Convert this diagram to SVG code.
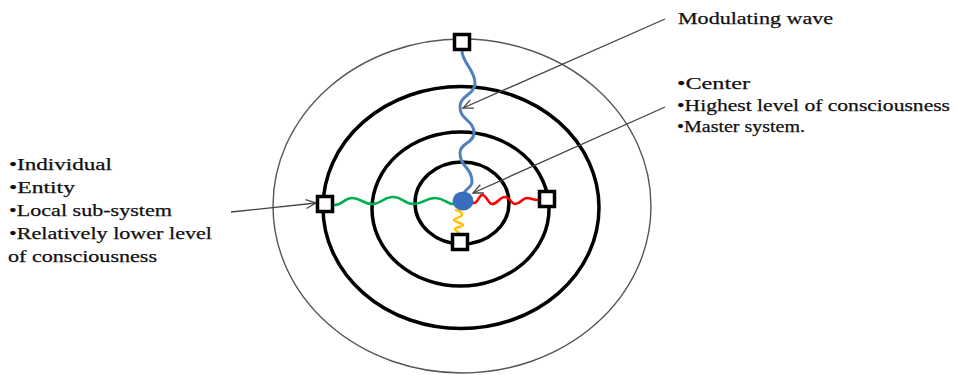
<svg xmlns="http://www.w3.org/2000/svg" width="956" height="375" viewBox="0 0 956 375">
<style>
.ring{fill:none;stroke:#000;stroke-width:3.5}
.outer{fill:none;stroke:#555;stroke-width:1.4}
.node{fill:#fff;stroke:#000;stroke-width:3.5}
.wave{fill:none;stroke-linecap:round;stroke-linejoin:round}
.arrow{fill:none;stroke:#444;stroke-width:1.3;marker-end:url(#ah)}
text{font-family:"Liberation Serif","Times New Roman",serif;font-size:17px;fill:#111;stroke:#111;stroke-width:0.25}
</style>
<defs>
<marker id="ah" markerUnits="userSpaceOnUse" markerWidth="14" markerHeight="12" refX="11" refY="5" orient="auto">
<path d="M1,0.5 L11,5 L1,9.5" fill="none" stroke="#444" stroke-width="1.3"/>
</marker>
<filter id="soft" x="-50%" y="-50%" width="200%" height="200%"><feGaussianBlur stdDeviation="0.5"/></filter>
</defs>
<g id="rings">
<ellipse class="outer" cx="462" cy="206" rx="189" ry="167"/>
<ellipse class="ring" cx="461" cy="207.5" rx="138" ry="121"/>
<ellipse class="ring" cx="460.5" cy="209" rx="88.5" ry="77"/>
<ellipse class="ring" cx="462" cy="203" rx="47" ry="41"/>
</g>
<g id="connectors">
<path class="wave" stroke="#4F81BD" stroke-width="3" d="M462,51 C462,62 475,70 475,83 C475,95 460,95 460,107 C460,120 474,120 474,133 C474,143 460,143 460,153 C460,167 472,167 472,182 C472,188 464,189 464,194"/>
<path class="wave" stroke="#00B050" stroke-width="2.6" d="M334,205 C343,205 344,198 352,198 C361,198 363,204 372,204 C382,204 383,197 393,197 C403,197 404,204 413,204 C424,204 425,198 435,198 C445,198 446,204 453,204"/>
<path class="wave" stroke="#FF0000" stroke-width="2.6" d="M474,203 C478,203 479,195 482,195 C487,195 488,204 492,204 C498,204 499,197 505,197 C510,197 511,204 515,204 C521,204 522,198 527,198 C531,198 533,200 538,200"/>
<path class="wave" stroke="#FFC000" stroke-width="2.4" d="M456,210 C460,211 462,213 462,215 C462,217 454,218 454,220 C454,222 463,223 463,225 C463,227 455,227 455,229 C455,231 459,232 460,234"/>
<line class="arrow" x1="665" y1="19" x2="463" y2="108"/>
<line class="arrow" x1="665" y1="107" x2="473" y2="193"/>
<line class="arrow" x1="231" y1="212" x2="316" y2="203"/>
</g>
<g id="center">
<ellipse cx="463" cy="201" rx="10.5" ry="9.5" fill="#3A6DBE" filter="url(#soft)"/>
</g>
<g id="node-top"><rect class="node" x="454.5" y="34.5" width="15" height="15"/></g>
<g id="node-left"><rect class="node" x="317.5" y="196.5" width="15" height="15"/></g>
<g id="node-right"><rect class="node" x="539.5" y="191.5" width="15" height="15"/></g>
<g id="node-bottom"><rect class="node" x="452.5" y="234.5" width="15" height="15"/></g>
<g id="label-wave">
<text x="678" y="24" textLength="155" lengthAdjust="spacingAndGlyphs">Modulating wave</text>
</g>
<g id="label-center">
<text x="677" y="89" textLength="73" lengthAdjust="spacingAndGlyphs">•Center</text>
<text x="677" y="111" textLength="273" lengthAdjust="spacingAndGlyphs">•Highest level  of consciousness</text>
<text x="677" y="132" textLength="128" lengthAdjust="spacingAndGlyphs">•Master system.</text>
</g>
<g id="label-individual">
<text x="9" y="170" textLength="103" lengthAdjust="spacingAndGlyphs">•Individual</text>
<text x="9" y="193" textLength="66" lengthAdjust="spacingAndGlyphs">•Entity</text>
<text x="9" y="216" textLength="163" lengthAdjust="spacingAndGlyphs">•Local sub-system</text>
<text x="9" y="239" textLength="203" lengthAdjust="spacingAndGlyphs">•Relatively lower level</text>
<text x="8" y="262" textLength="149" lengthAdjust="spacingAndGlyphs">of consciousness</text>
</g>
</svg>
